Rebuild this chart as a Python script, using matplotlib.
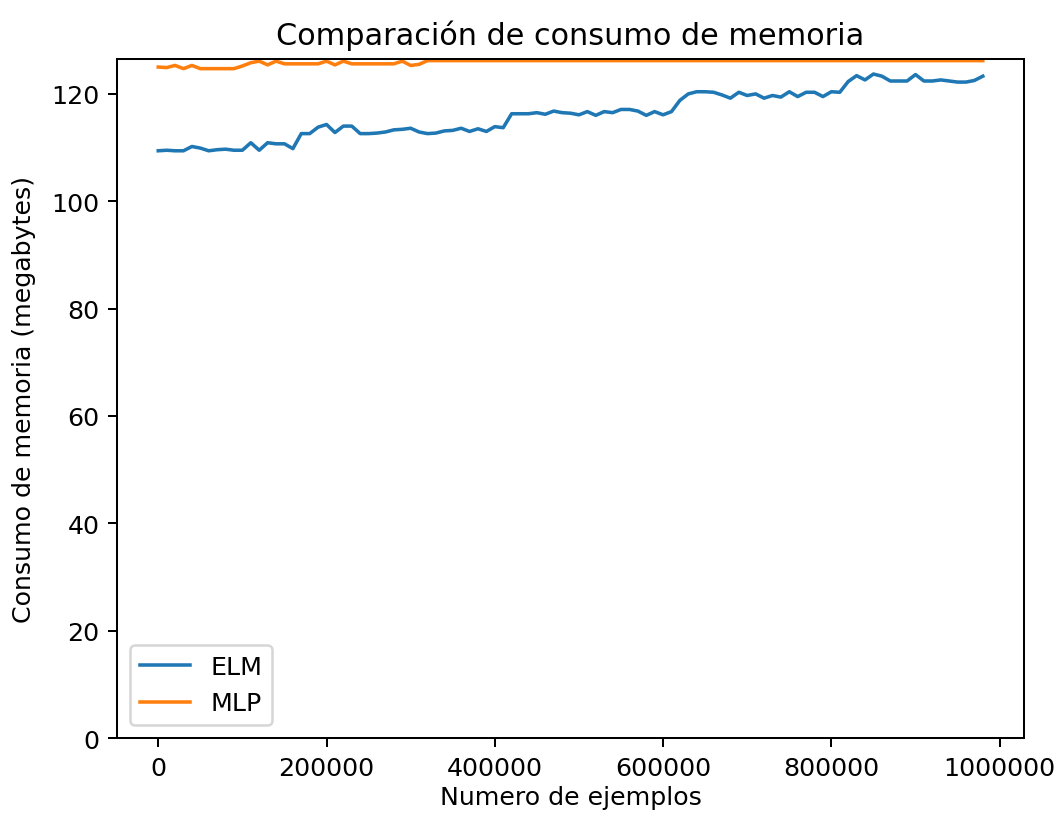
import numpy as np
import matplotlib
matplotlib.use("Agg")
import matplotlib.pyplot as plt
from matplotlib.ticker import ScalarFormatter

n_ejemplos = list(range(0, 990000, 10000))

elm = [109.4, 109.5, 109.4, 109.4, 110.2, 109.9, 109.4, 109.6, 109.7, 109.5,
       109.5, 110.9, 109.5, 110.9, 110.7, 110.7, 109.8, 112.6, 112.6, 113.8,
       114.3, 112.8, 114.0, 114.0, 112.6, 112.6, 112.7, 112.9, 113.3, 113.4,
       113.6, 112.9, 112.6, 112.7, 113.1, 113.2, 113.6, 113.0, 113.5, 113.0,
       113.9, 113.7, 116.3, 116.3, 116.3, 116.5, 116.2, 116.8, 116.5, 116.4,
       116.1, 116.7, 116.0, 116.7, 116.5, 117.1, 117.1, 116.8, 116.0, 116.7,
       116.1, 116.7, 118.8, 120.0, 120.4, 120.4, 120.3, 119.8, 119.2, 120.3,
       119.7, 120.0, 119.2, 119.7, 119.4, 120.4, 119.5, 120.3, 120.3, 119.5,
       120.4, 120.3, 122.3, 123.4, 122.6, 123.7, 123.3, 122.4, 122.4, 122.4,
       123.6, 122.4, 122.4, 122.6, 122.4, 122.2, 122.2, 122.5, 123.3]

mlp = [125.0, 124.9, 125.3, 124.7, 125.3, 124.7, 124.7, 124.7, 124.7, 124.7,
       125.2, 125.8, 126.1, 125.4, 126.1, 125.6, 125.6, 125.6, 125.6, 125.6,
       126.1, 125.4, 126.1, 125.6, 125.6, 125.6, 125.6, 125.6, 125.6, 126.1,
       125.3, 125.5, 126.2] + [126.2] * 66

DPI = 181.5
fig = plt.figure(figsize=(1058 / DPI, 814 / DPI), dpi=DPI)
ax = fig.add_subplot(111)
fig.subplots_adjust(left=0.1106, right=0.9679, top=0.9263, bottom=0.0921)

ax.plot(n_ejemplos, elm, color="#1f77b4", linewidth=1.4, label="ELM")
ax.plot(n_ejemplos, mlp, color="#ff7f0e", linewidth=1.4, label="MLP")
ax.set_ylim(0, 126.5)

fmt = ScalarFormatter(useOffset=False)
fmt.set_scientific(False)
ax.xaxis.set_major_formatter(fmt)

ax.set_title("Comparación de consumo de memoria")
ax.set_xlabel("Numero de ejemplos", labelpad=2)
ax.set_ylabel("Consumo de memoria (megabytes)", labelpad=6)
ax.legend(loc="lower left")

fig.savefig("out.png", dpi=DPI)
